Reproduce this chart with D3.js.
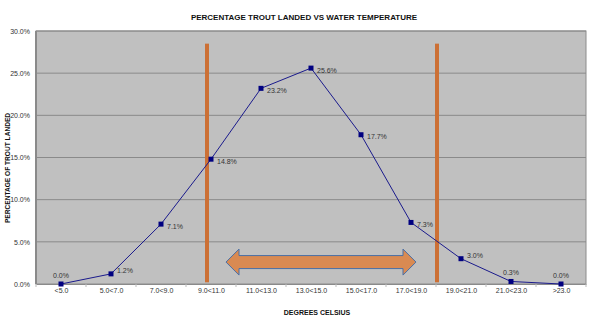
<!DOCTYPE html>
<html><head><meta charset="utf-8">
<script src="https://cdn.jsdelivr.net/npm/d3@7"></script>
<style>body{margin:0;background:#fff}svg{display:block;font-family:"Liberation Sans",Arial,sans-serif}</style>
</head><body><svg id="c" width="600" height="326"></svg>
<script>
const categories = ["<5.0","5.0<7.0","7.0<9.0","9.0<11.0","11.0<13.0","13.0<15.0","15.0<17.0","17.0<19.0","19.0<21.0","21.0<23.0",">23.0"];
const values = [0.0,1.2,7.1,14.8,23.2,25.6,17.7,7.3,3.0,0.3,0.0];
const yTicks = [0,5,10,15,20,25,30];
const markerPositions = [2.92,7.52];     // category-index units
const markerTop = 28.5;                   // percent
const arrowRange = [3.3,7.1];             // category-index units
const arrowLevel = 2.6;                   // percent

const svg = d3.select("#c");
const m = {l:36,r:14,t:31,b:42};
const W = 600, H = 326;
const x = d3.scalePoint().domain(categories).range([m.l, W-m.r]).padding(0.5);
const xi = d3.scaleLinear().domain([0, categories.length-1]).range([x(categories[0]), x(categories[categories.length-1])]);
const y = d3.scaleLinear().domain([0,30]).range([H-m.b, m.t]);

// plot area
svg.append("rect").attr("x",m.l).attr("y",m.t).attr("width",W-m.l-m.r).attr("height",H-m.t-m.b)
  .attr("fill","#c0c0c0").attr("stroke","#8c8c8c").attr("stroke-width",1);
svg.append("line").attr("x1",m.l).attr("x2",m.l).attr("y1",m.t).attr("y2",H-m.b).attr("stroke","#8a8a8a").attr("stroke-width",2);

// gridlines
svg.append("g").selectAll("line").data(yTicks.slice(1)).join("line")
  .attr("x1",m.l).attr("x2",W-m.r).attr("y1",d=>y(d)).attr("y2",d=>y(d))
  .attr("stroke","#8a8a8a").attr("stroke-width",1);

// y axis
const ya = svg.append("g").attr("transform",`translate(${m.l},0)`)
  .call(d3.axisLeft(y).tickValues(yTicks).tickFormat(d=>d.toFixed(1)+"%").tickSize(0).tickPadding(6));
ya.select(".domain").remove();
ya.selectAll("text").attr("font-size",7).attr("fill","#333").attr("font-family","Liberation Sans, Arial, sans-serif");

// x axis
const xa = svg.append("g").attr("transform",`translate(0,${H-m.b})`)
  .call(d3.axisBottom(x).tickSize(0).tickPadding(4));
xa.select(".domain").attr("stroke","#8a8a8a");
xa.selectAll("text").attr("font-size",7).attr("fill","#333").attr("font-family","Liberation Sans, Arial, sans-serif");
const step = x.step();
svg.append("g").selectAll("line").data(d3.range(categories.length+1)).join("line")
  .attr("x1",i=>m.l+i*step).attr("x2",i=>m.l+i*step).attr("y1",H-m.b).attr("y2",H-m.b+3)
  .attr("stroke","#bbb");

// orange markers
svg.append("g").selectAll("line").data(markerPositions).join("line")
  .attr("x1",d=>xi(d)).attr("x2",d=>xi(d)).attr("y1",y(markerTop)).attr("y2",y(0.2))
  .attr("stroke","#cc7035").attr("stroke-width",4);

// double arrow
{
  const x0 = xi(arrowRange[0]), x1 = xi(arrowRange[1]), cy = y(arrowLevel);
  const sh = 6.5, hh = 13, hl = 13;
  const pts = [[x0,cy],[x0+hl,cy-hh],[x0+hl,cy-sh],[x1-hl,cy-sh],[x1-hl,cy-hh],[x1,cy],[x1-hl,cy+hh],[x1-hl,cy+sh],[x0+hl,cy+sh],[x0+hl,cy+hh]];
  svg.append("path").attr("d","M"+pts.map(p=>p.join(",")).join("L")+"Z")
    .attr("fill","#d98a52").attr("stroke","#4a6fa5").attr("stroke-width",1);
}

// line
svg.append("path").datum(values).attr("fill","none").attr("stroke","#1a1a8c").attr("stroke-width",1)
  .attr("d",d3.line().x((d,i)=>x(categories[i])).y(d=>y(d)));
svg.append("g").selectAll("rect").data(values).join("rect")
  .attr("x",(d,i)=>x(categories[i])-2.5).attr("y",d=>y(d)-2.5).attr("width",5).attr("height",5).attr("fill","#000080");

// data labels
svg.append("g").selectAll("text").data(values).join("text")
  .attr("x",(d,i)=> d<1 ? x(categories[i]) : x(categories[i])+6)
  .attr("y",(d,i)=> d<1 ? y(d)-6 : (d<5 ? y(d)-0.5 : y(d)+4.5))
  .attr("text-anchor",d=> d<1 ? "middle" : "start")
  .attr("font-size",7).attr("fill","#333")
  .text(d=>d.toFixed(1)+"%");

// titles
svg.append("text").attr("x",304).attr("y",20).attr("text-anchor","middle")
  .attr("font-size",8).attr("font-weight","bold").attr("fill","#111")
  .text("PERCENTAGE TROUT LANDED VS WATER TEMPERATURE");
svg.append("text").attr("x",317).attr("y",315).attr("text-anchor","middle")
  .attr("font-size",7).attr("font-weight","bold").attr("fill","#111")
  .text("DEGREES CELSIUS");
svg.append("text").attr("transform","translate(10,168) rotate(-90)").attr("text-anchor","middle")
  .attr("font-size",6.6).attr("font-weight","bold").attr("fill","#111")
  .text("PERCENTAGE OF TROUT LANDED");
</script></body></html>
